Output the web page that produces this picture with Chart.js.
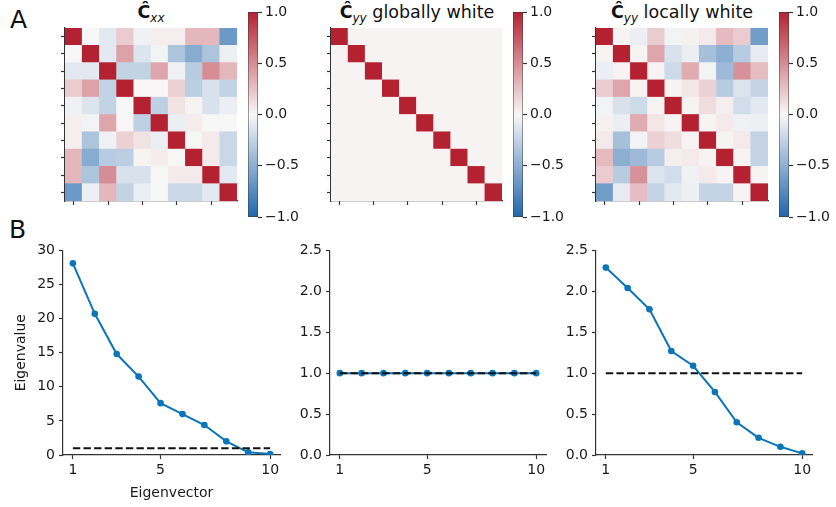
<!DOCTYPE html>
<html>
<head>
<meta charset="utf-8">
<script src="https://cdn.jsdelivr.net/npm/chart.js@4.4.0/dist/chart.umd.min.js"></script>
<style>
  body { margin: 0; background: #fff; width: 836px; height: 507px; position: relative; overflow: hidden;
         font-family: "DejaVu Sans", sans-serif; color: #111; }
  canvas { position: absolute; }
  .panel { position: absolute; font-size: 25px; line-height: 25px; }
  .ttl { position: absolute; font-size: 17.5px; line-height: 20px; white-space: nowrap; transform: translateX(-50%); }
  .ttl sub { font-size: 12px; font-style: italic; vertical-align: -4px; }
</style>
</head>
<body>
<div class="panel" style="left:10px;top:7px">A</div>
<div class="panel" style="left:9px;top:217px">B</div>
<div class="ttl" style="left:151px;top:2px"><b>Ĉ</b><sub>xx</sub></div>
<div class="ttl" style="left:417px;top:2px"><b>Ĉ</b><sub>yy</sub> globally white</div>
<div class="ttl" style="left:682px;top:2px"><b>Ĉ</b><sub>yy</sub> locally white</div>

<script>
// correlation matrices (rows top to bottom)
const cxx = [
  [ 1.00,  0.00, -0.10,  0.20, -0.04,  0.04,  0.04,  0.30,  0.30, -0.65],
  [ 0.00,  1.00, -0.10,  0.40, -0.13, -0.03, -0.35, -0.52, -0.35, -0.05],
  [-0.10, -0.10,  1.00, -0.25, -0.25,  0.38, -0.04, -0.30,  0.50,  0.30],
  [ 0.20,  0.40, -0.25,  1.00,  0.00,  0.01,  0.18, -0.28, -0.15, -0.25],
  [-0.04, -0.13, -0.25,  0.00,  1.00, -0.27,  0.10,  0.02, -0.15, -0.06],
  [ 0.04, -0.03,  0.38,  0.01, -0.27,  1.00, -0.06,  0.05,  0.00,  0.00],
  [ 0.04, -0.35, -0.04,  0.18,  0.10, -0.06,  1.00, -0.01,  0.06, -0.22],
  [ 0.30, -0.52, -0.30, -0.28,  0.02,  0.05, -0.01,  1.00,  0.06, -0.22],
  [ 0.30, -0.35,  0.50, -0.15, -0.15,  0.00,  0.06,  0.06,  1.00, -0.10],
  [-0.65, -0.05,  0.30, -0.25, -0.06,  0.00, -0.22, -0.22, -0.10,  1.00]
];
const cyyGlobal = [
  [1.00, 0.02, 0.02, 0.02, 0.02, 0.02, 0.02, 0.02, 0.02, 0.02],
  [0.02, 1.00, 0.02, 0.02, 0.02, 0.02, 0.02, 0.02, 0.02, 0.02],
  [0.02, 0.02, 1.00, 0.02, 0.02, 0.02, 0.02, 0.02, 0.02, 0.02],
  [0.02, 0.02, 0.02, 1.00, 0.02, 0.02, 0.02, 0.02, 0.02, 0.02],
  [0.02, 0.02, 0.02, 0.02, 1.00, 0.02, 0.02, 0.02, 0.02, 0.02],
  [0.02, 0.02, 0.02, 0.02, 0.02, 1.00, 0.02, 0.02, 0.02, 0.02],
  [0.02, 0.02, 0.02, 0.02, 0.02, 0.02, 1.00, 0.02, 0.02, 0.02],
  [0.02, 0.02, 0.02, 0.02, 0.02, 0.02, 0.02, 1.00, 0.02, 0.02],
  [0.02, 0.02, 0.02, 0.02, 0.02, 0.02, 0.02, 0.02, 1.00, 0.02],
  [0.02, 0.02, 0.02, 0.02, 0.02, 0.02, 0.02, 0.02, 0.02, 1.00]
];
const cyyLocal = [
  [ 1.00,  0.02, -0.06,  0.20, -0.03,  0.03,  0.06,  0.28,  0.20, -0.62],
  [ 0.02,  1.00,  0.02,  0.38, -0.15, -0.06, -0.38, -0.50, -0.30, -0.08],
  [-0.06,  0.02,  1.00,  0.02, -0.20,  0.35, -0.03, -0.42,  0.48,  0.27],
  [ 0.20,  0.38,  0.02,  1.00,  0.02,  0.08,  0.18, -0.30, -0.13, -0.24],
  [-0.03, -0.15, -0.20,  0.02,  1.00,  0.02,  0.12,  0.04, -0.18, -0.10],
  [ 0.03, -0.06,  0.35,  0.08,  0.02,  1.00,  0.02,  0.06, -0.04, -0.05],
  [ 0.06, -0.38, -0.03,  0.18,  0.12,  0.02,  1.00,  0.02,  0.06, -0.24],
  [ 0.28, -0.50, -0.42, -0.30,  0.04,  0.06,  0.02,  1.00,  0.02, -0.24],
  [ 0.20, -0.30,  0.48, -0.13, -0.18, -0.04,  0.06,  0.02,  1.00,  0.02],
  [-0.62, -0.08,  0.27, -0.24, -0.10, -0.05, -0.24, -0.24,  0.02,  1.00]
];

// eigenvalue spectra
const eigIndex = [1, 2, 3, 4, 5, 6, 7, 8, 9, 10];
const eigXX = [28.1, 20.7, 14.8, 11.5, 7.6, 6.0, 4.4, 2.0, 0.4, 0.15];
const eigGlobal = [1, 1, 1, 1, 1, 1, 1, 1, 1, 1];
const eigLocal = [2.29, 2.04, 1.78, 1.27, 1.09, 0.77, 0.40, 0.21, 0.10, 0.02];
const whiteLevel = 1;

// tick labels
const eigTicks = [1, 5, 10];
const heatColTicks = [0, 2, 4, 6, 8];
const heatRowTicks = [0, 1, 2, 3, 4, 5, 6, 7, 8, 9];
const cbarTicks = [-1, -0.5, 0, 0.5, 1];
const cbarRange = [-1, 1];

const axisColor = "#333";
const textColor = "#1a1a1a";
const lineBlue = "#0a75b8";
const font14 = { family: "DejaVu Sans", size: 14 };

const blueEnd = [33, 102, 172];
const midColor = [248, 247, 247];
const redEnd = [180, 34, 50];

function rdbu(v) {
  const t = Math.max(-1, Math.min(1, v));
  const end = t < 0 ? blueEnd : redEnd;
  const k = Math.abs(t);
  const c = midColor.map((m, i) => Math.round(m + (end[i] - m) * k));
  return `rgb(${c.join(",")})`;
}

function place(left, top, w, h) {
  const c = document.createElement("canvas");
  c.width = w; c.height = h;
  c.style.left = left + "px"; c.style.top = top + "px";
  c.style.width = w + "px"; c.style.height = h + "px";
  document.body.appendChild(c);
  return c;
}

const fixedTicks = list => s => { s.ticks = list.map(v => ({ value: v })); };

function heatmap(matrix, area) {
  const ml = 20, mt = 6, mr = 6, mb = 14;
  const cv = place(area.x - ml, area.y - mt, area.w + ml + mr, area.h + mt + mb);
  const cells = [];
  matrix.forEach((row, r) => row.forEach((v, c) => cells.push({ x: c, y: [r - 0.5, r + 0.5], v: v })));
  const grid = { drawOnChartArea: false, offset: false, tickLength: 4, tickColor: axisColor, tickWidth: 1.2 };
  return new Chart(cv, {
    type: "bar",
    data: { datasets: [{
      data: cells,
      backgroundColor: ctx => ctx.raw ? rdbu(ctx.raw.v) : "#fff",
      borderWidth: 0, barPercentage: 1, categoryPercentage: 1
    }] },
    options: {
      responsive: false, animation: false,
      layout: { padding: { top: mt, right: mr, left: 0, bottom: 0 } },
      plugins: { legend: { display: false }, tooltip: { enabled: false } },
      scales: {
        x: { type: "linear", offset: false, min: -0.5, max: 9.5, afterBuildTicks: fixedTicks(heatColTicks),
             afterFit: s => { s.height = mb; }, ticks: { display: false }, grid: grid,
             border: { color: axisColor, width: 1.2 } },
        y: { type: "linear", reverse: true, min: -0.5, max: 9.5, afterBuildTicks: fixedTicks(heatRowTicks),
             afterFit: s => { s.width = ml; }, ticks: { display: false }, grid: grid,
             border: { color: axisColor, width: 1.2 } }
      }
    }
  });
}

function colorbar(area) {
  const ml = 5, mt = 12, mr = 46, mb = 14;
  const cv = place(area.x - ml, area.y - mt, area.w + ml + mr, area.h + mt + mb);
  return new Chart(cv, {
    type: "bar",
    data: { labels: [""], datasets: [{
      data: [cbarRange],
      backgroundColor: ctx => {
        const ch = ctx.chart;
        if (!ch.chartArea) return null;
        const y = ch.scales.y;
        const g = ch.ctx.createLinearGradient(0, y.getPixelForValue(-1), 0, y.getPixelForValue(1));
        for (let i = 0; i <= 20; i++) g.addColorStop(i / 20, rdbu(-1 + i / 10));
        return g;
      },
      borderWidth: 0.8, borderColor: axisColor, borderSkipped: false,
      barPercentage: 1, categoryPercentage: 1
    }] },
    options: {
      responsive: false, animation: false,
      layout: { padding: { top: mt, right: 0, left: ml, bottom: mb } },
      plugins: { legend: { display: false }, tooltip: { enabled: false } },
      scales: {
        x: { display: false },
        y: { position: "right", min: -1, max: 1, afterBuildTicks: fixedTicks(cbarTicks),
             afterFit: s => { s.width = mr; },
             ticks: { font: font14, color: textColor, padding: 3,
                      callback: v => v.toFixed(1).replace("-", "\u2212") },
             grid: { drawOnChartArea: false, tickLength: 4, tickColor: axisColor, tickWidth: 1.2 },
             border: { display: false } }
      }
    }
  });
}

function eigenPlot(values, area, canvasLeft, yMax, yStep, withTitles) {
  const top = 238, bottom = 507, right = 18;
  const ml = area.x - canvasLeft, mt = area.y - top, mb = bottom - (area.y + area.h);
  const cv = place(canvasLeft, top, ml + area.w + right, bottom - top);
  const yTicks = [];
  for (let v = 0; v <= yMax + 1e-9; v += yStep) yTicks.push(+v.toFixed(2));
  const grid = { drawOnChartArea: false, tickLength: 4, tickColor: axisColor, tickWidth: 1.2 };
  return new Chart(cv, {
    type: "line",
    data: { datasets: [
      { data: [{ x: eigIndex[0], y: whiteLevel }, { x: eigIndex[eigIndex.length - 1], y: whiteLevel }],
        borderColor: "#111", borderWidth: 2, borderDash: [7.4, 3.2], pointRadius: 0 },
      { data: eigIndex.map((x, i) => ({ x: x, y: values[i] })),
        borderColor: lineBlue, borderWidth: 2, pointRadius: 3.3, pointBackgroundColor: lineBlue,
        pointBorderWidth: 0, tension: 0 }
    ] },
    options: {
      responsive: false, animation: false,
      layout: { padding: { top: mt, right: right, left: 0, bottom: 0 } },
      plugins: { legend: { display: false }, tooltip: { enabled: false } },
      scales: {
        x: { type: "linear", min: 0.55, max: 10.45, afterBuildTicks: fixedTicks(eigTicks),
             afterFit: s => { s.height = mb; },
             ticks: { font: font14, color: textColor, padding: 3, maxRotation: 0, autoSkip: false },
             grid: grid, border: { color: axisColor, width: 1.2 },
             title: { display: withTitles, text: "Eigenvector", font: font14, color: textColor,
                      padding: { top: 0, bottom: 5.6 } } },
        y: { type: "linear", min: 0, max: yMax, afterBuildTicks: fixedTicks(yTicks),
             afterFit: s => { s.width = ml; },
             ticks: { font: font14, color: textColor, padding: 4,
                      callback: v => yStep < 1 ? v.toFixed(1) : String(v) },
             grid: grid, border: { color: axisColor, width: 1.2 },
             title: { display: withTitles, text: "Eigenvalue", font: font14, color: textColor,
                      padding: { top: 12.6, bottom: 0 } } }
      }
    }
  });
}

heatmap(cxx, { x: 65, y: 28, w: 172, h: 173 });
heatmap(cyyGlobal, { x: 331, y: 28, w: 171, h: 173 });
heatmap(cyyLocal, { x: 596, y: 28, w: 172, h: 173 });

colorbar({ x: 248, y: 12, w: 10, h: 205 });
colorbar({ x: 513, y: 12, w: 10, h: 205 });
colorbar({ x: 779, y: 12, w: 10, h: 205 });

eigenPlot(eigXX, { x: 63, y: 249, w: 217, h: 206 }, 0, 30, 5, true);
eigenPlot(eigGlobal, { x: 330, y: 249, w: 216, h: 206 }, 290, 2.5, 0.5, false);
eigenPlot(eigLocal, { x: 596, y: 249, w: 216, h: 206 }, 556, 2.5, 0.5, false);
</script>
</body>
</html>
